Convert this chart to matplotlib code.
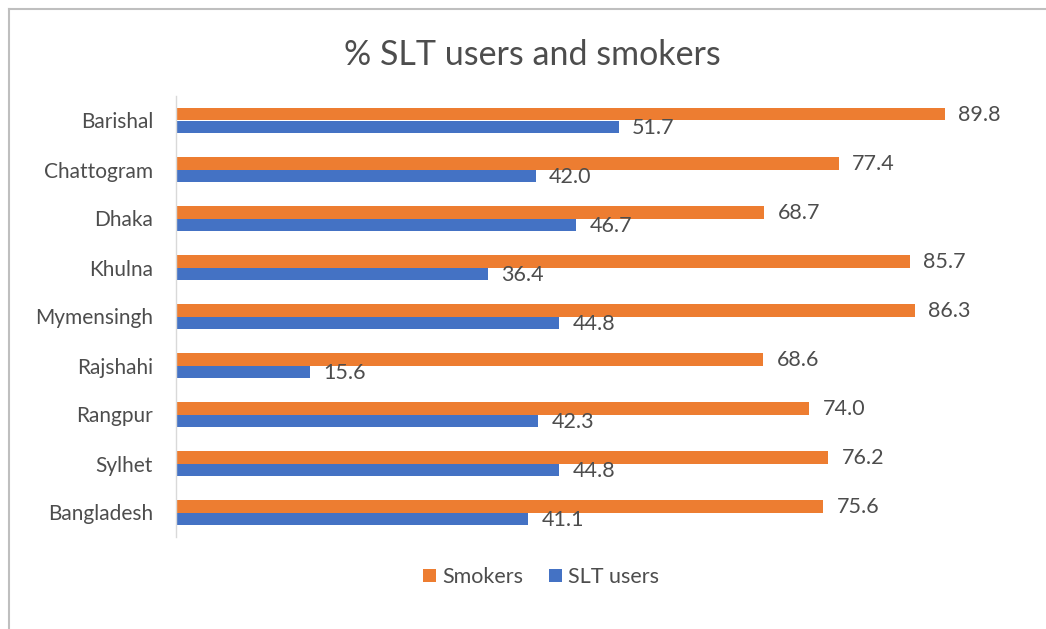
import matplotlib
matplotlib.use("Agg")
import matplotlib.pyplot as plt
import numpy as np
from matplotlib.lines import Line2D

plt.rcParams['font.family'] = ['Lato', 'DejaVu Sans']

divisions = ["Barishal", "Chattogram", "Dhaka", "Khulna", "Mymensingh",
             "Rajshahi", "Rangpur", "Sylhet", "Bangladesh"]
smokers = [89.8, 77.4, 68.7, 85.7, 86.3, 68.6, 74.0, 76.2, 75.6]
slt_users = [51.7, 42.0, 46.7, 36.4, 44.8, 15.6, 42.3, 44.8, 41.1]

orange = "#ED7D31"
blue = "#4472C4"
text_gray = "#4d4d4d"

W, H = 1046, 629
fig = plt.figure(figsize=(W / 100, H / 100), dpi=100)
fig.patch.set_facecolor("white")

# chart frame (top and left edges)
fig.add_artist(Line2D([9 / W, 1.0], [1 - 9 / H, 1 - 9 / H], color="#bfbfbf", lw=1.5))
fig.add_artist(Line2D([9 / W, 9 / W], [1 - 9 / H, 0.0], color="#bfbfbf", lw=1.5))

# plot area in pixel terms: x from 176 to 1032 (0..100), y from 96 to 537
left, right = 176, 1032
top, bottom = 96, 537
ax = fig.add_axes([left / W, 1 - bottom / H, (right - left) / W, (bottom - top) / H])

n = len(divisions)
y = np.arange(n)
h = 0.265
ax.barh(y - h / 2, smokers, height=h, color=orange, label="Smokers")
ax.barh(y + h / 2, slt_users, height=h, color=blue, label="SLT users")

label_size = 15.5
for yi, s, t in zip(y, smokers, slt_users):
    ax.text(s + 1.6, yi - h / 2 + 0.03, f"{s:.1f}", va="center", ha="left",
            fontsize=label_size, color=text_gray)
    ax.text(t + 1.6, yi + h / 2 + 0.03, f"{t:.1f}", va="center", ha="left",
            fontsize=label_size, color=text_gray)

ax.set_xlim(0, 100)
ax.set_ylim(n - 0.5, -0.5)
ax.set_yticks(y)
ax.set_yticklabels(divisions, fontsize=15, color=text_gray)
ax.tick_params(axis="y", length=0, pad=16.5)
ax.set_xticks([])
for side in ["top", "right", "bottom"]:
    ax.spines[side].set_visible(False)
ax.spines["left"].set_color("#d9d9d9")
ax.spines["left"].set_linewidth(1.0)

fig.text(532 / W, 1 - 55 / H, "% SLT users and smokers", ha="center", va="center",
         fontsize=24.5, color=text_gray)

handles, labels = ax.get_legend_handles_labels()
fig.legend(handles, labels, loc="center", bbox_to_anchor=(541 / W, 1 - 577 / H),
           ncol=2, frameon=False, fontsize=15.5, labelcolor=text_gray,
           handlelength=0.6, handleheight=0.6, handletextpad=0.3, columnspacing=1.2)

fig.savefig("out.png", dpi=100, facecolor="white")
